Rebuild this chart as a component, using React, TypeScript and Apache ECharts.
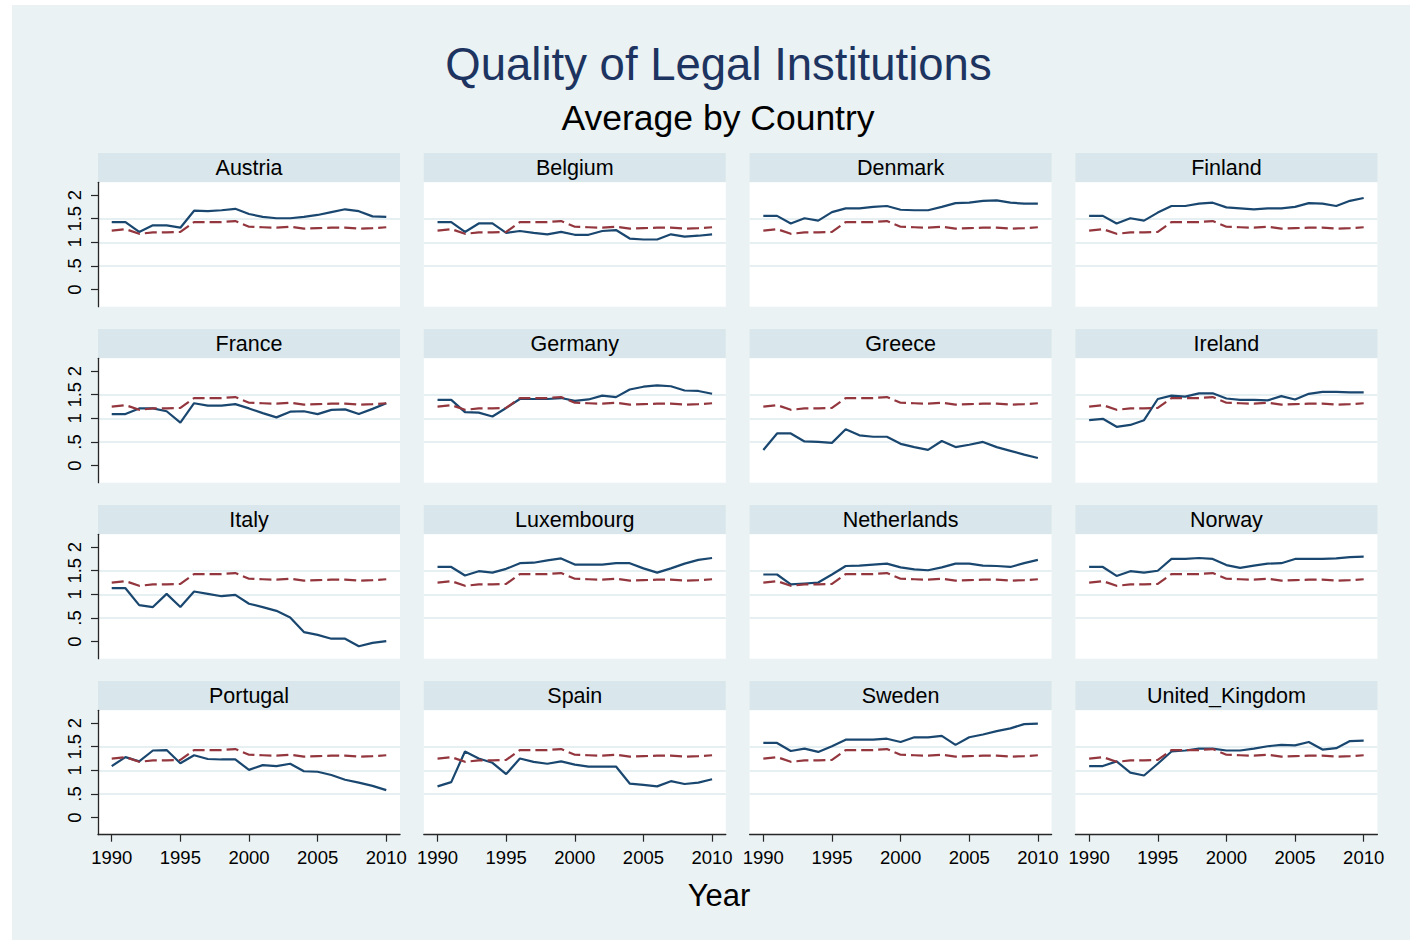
import React, { useEffect, useRef } from "react";
import * as echarts from "echarts";

// ---------- data ----------
const years = [1990, 1991, 1992, 1993, 1994, 1995, 1996, 1997, 1998, 1999, 2000,
  2001, 2002, 2003, 2004, 2005, 2006, 2007, 2008, 2009, 2010];

const austria = [1.43, 1.43, 1.22, 1.36, 1.36, 1.31, 1.67, 1.66, 1.68, 1.71, 1.60, 1.54, 1.51, 1.51, 1.54, 1.58, 1.64, 1.70, 1.66, 1.55, 1.54];
const belgium = [1.43, 1.43, 1.22, 1.40, 1.40, 1.20, 1.24, 1.20, 1.17, 1.22, 1.16, 1.16, 1.24, 1.26, 1.08, 1.06, 1.06, 1.17, 1.12, 1.14, 1.17];
const denmark = [1.56, 1.56, 1.40, 1.51, 1.46, 1.64, 1.72, 1.72, 1.75, 1.77, 1.69, 1.68, 1.68, 1.75, 1.83, 1.84, 1.88, 1.89, 1.84, 1.82, 1.82];
const finland = [1.56, 1.56, 1.40, 1.51, 1.46, 1.63, 1.77, 1.77, 1.82, 1.84, 1.74, 1.72, 1.70, 1.72, 1.72, 1.75, 1.83, 1.82, 1.77, 1.88, 1.94];
const france = [1.09, 1.09, 1.21, 1.21, 1.15, 0.91, 1.32, 1.27, 1.27, 1.30, 1.21, 1.11, 1.02, 1.14, 1.15, 1.09, 1.18, 1.19, 1.09, 1.20, 1.32];
const germany = [1.39, 1.39, 1.13, 1.12, 1.04, 1.22, 1.41, 1.41, 1.41, 1.43, 1.37, 1.40, 1.48, 1.45, 1.61, 1.67, 1.70, 1.68, 1.59, 1.58, 1.52];
const greece = [0.33, 0.68, 0.68, 0.51, 0.50, 0.48, 0.77, 0.64, 0.61, 0.61, 0.46, 0.39, 0.33, 0.52, 0.39, 0.44, 0.50, 0.39, 0.31, 0.23, 0.16];
const ireland = [0.96, 0.99, 0.82, 0.86, 0.96, 1.41, 1.48, 1.46, 1.53, 1.53, 1.42, 1.39, 1.39, 1.38, 1.47, 1.40, 1.52, 1.56, 1.56, 1.55, 1.55];
const italy = [1.13, 1.13, 0.77, 0.73, 1.01, 0.73, 1.06, 1.01, 0.96, 0.99, 0.80, 0.73, 0.65, 0.51, 0.20, 0.14, 0.06, 0.06, -0.10, -0.03, 0.01];
const luxembourg = [1.58, 1.58, 1.40, 1.49, 1.46, 1.54, 1.66, 1.67, 1.72, 1.76, 1.63, 1.63, 1.63, 1.66, 1.66, 1.55, 1.46, 1.55, 1.65, 1.73, 1.77];
const netherlands = [1.42, 1.42, 1.21, 1.23, 1.25, 1.42, 1.60, 1.61, 1.63, 1.65, 1.57, 1.53, 1.51, 1.57, 1.65, 1.65, 1.61, 1.60, 1.58, 1.66, 1.73];
const norway = [1.58, 1.58, 1.39, 1.49, 1.46, 1.50, 1.75, 1.75, 1.77, 1.75, 1.62, 1.56, 1.61, 1.65, 1.66, 1.75, 1.75, 1.75, 1.76, 1.79, 1.80];
const portugal = [1.09, 1.28, 1.19, 1.42, 1.43, 1.15, 1.32, 1.24, 1.23, 1.23, 1.01, 1.11, 1.09, 1.14, 0.98, 0.97, 0.90, 0.80, 0.74, 0.67, 0.58];
const spain = [0.66, 0.75, 1.40, 1.25, 1.16, 0.92, 1.25, 1.18, 1.14, 1.19, 1.12, 1.08, 1.08, 1.08, 0.72, 0.69, 0.66, 0.77, 0.71, 0.74, 0.81];
const sweden = [1.58, 1.58, 1.41, 1.46, 1.39, 1.51, 1.65, 1.65, 1.65, 1.67, 1.60, 1.70, 1.70, 1.73, 1.54, 1.70, 1.76, 1.83, 1.89, 1.98, 1.99];
const unitedKingdom = [1.09, 1.09, 1.19, 0.95, 0.89, 1.14, 1.40, 1.42, 1.46, 1.46, 1.42, 1.42, 1.46, 1.51, 1.54, 1.53, 1.60, 1.44, 1.47, 1.62, 1.63];

// overall average (red dashed line, identical in every panel)
const average = [1.25, 1.28, 1.18, 1.21, 1.21, 1.22, 1.43, 1.43, 1.43, 1.45, 1.33, 1.32, 1.31, 1.33, 1.29, 1.30, 1.31, 1.31, 1.29, 1.30, 1.32];

const countries = ["Austria", "Belgium", "Denmark", "Finland", "France", "Germany", "Greece", "Ireland",
  "Italy", "Luxembourg", "Netherlands", "Norway", "Portugal", "Spain", "Sweden", "United_Kingdom"];
const countryValues = [austria, belgium, denmark, finland, france, germany, greece, ireland,
  italy, luxembourg, netherlands, norway, portugal, spain, sweden, unitedKingdom];

const xTickValues = [1990, 1995, 2000, 2005, 2010];
const yTickValues = [0, 0.5, 1, 1.5, 2];
const yTickLabels = ["0", ".5", "1", "1.5", "2"];

const mainTitle = "Quality of Legal Institutions";
const subTitle = "Average by Country";
const xTitle = "Year";

// ---------- style ----------
const FONT = '"Liberation Sans", Arial, Helvetica, sans-serif';
const BG = "#EAF2F3";
const STRIP = "#D9E6EB";
const TITLE = "#1D3461";
const NAVY = "#1A476F";
const MAROON = "#93363D";
const AXIS = "#262626";

export default function App() {
  const ref = useRef<HTMLDivElement>(null);

  useEffect(() => {
    if (!ref.current) return;
    const chart = echarts.init(ref.current, null, { renderer: "svg", width: 1412, height: 942 });

    const grids: any[] = [];
    const xAxes: any[] = [];
    const yAxes: any[] = [];
    const series: any[] = [];
    const graphics: any[] = [
      { type: "rect", shape: { x: 0, y: 0, width: 12, height: 942 }, style: { fill: "#fff" }, silent: true },
      { type: "rect", shape: { x: 0, y: 0, width: 1412, height: 5 }, style: { fill: "#fff" }, silent: true },
      { type: "rect", shape: { x: 1410, y: 0, width: 2, height: 942 }, style: { fill: "#fff" }, silent: true },
      { type: "rect", shape: { x: 0, y: 940, width: 1412, height: 2 }, style: { fill: "#fff" }, silent: true },
    ];

    const plotW = 302;
    const plotH = 124.4;
    const stripH = 29;

    countries.forEach((name, i) => {
      const r = Math.floor(i / 4);
      const c = i % 4;
      const left = 98 + c * 325.8;
      const stripTop = 153 + r * 176;
      const top = stripTop + 29.3;
      const isBottom = r === 3;
      const isLeft = c === 0;

      grids.push({
        left, top, width: plotW, height: plotH,
        show: true, backgroundColor: "#ffffff", borderWidth: 0,
        containLabel: false, outerBoundsMode: "none",
      });

      xAxes.push({
        type: "value", gridIndex: i, min: 1989, max: 2011,
        axisLine: { show: isBottom, onZero: false, lineStyle: { color: AXIS, width: 1.3 } },
        axisTick: { show: isBottom, customValues: xTickValues, length: 7, lineStyle: { color: AXIS, width: 1.2 } },
        axisLabel: {
          show: isBottom, customValues: xTickValues, margin: 13,
          fontSize: 18.5, fontFamily: FONT, color: "#000",
          formatter: (v: number) => String(v),
        },
        splitLine: { show: false },
      });

      yAxes.push({
        type: "value", gridIndex: i, min: -0.364, max: 2.272,
        axisLine: { show: isLeft, onZero: false, lineStyle: { color: AXIS, width: 1.3 } },
        axisTick: { show: isLeft, customValues: yTickValues, length: 7, lineStyle: { color: AXIS, width: 1.2 } },
        axisLabel: {
          show: isLeft, customValues: yTickValues, rotate: 90, margin: 14,
          fontSize: 18.5, fontFamily: FONT, color: "#000",
          formatter: (v: number) => {
            let best = 0;
            yTickValues.forEach((t, k) => { if (Math.abs(t - v) < Math.abs(yTickValues[best] - v)) best = k; });
            return yTickLabels[best];
          },
        },
        splitLine: { show: true, showMinLine: false, showMaxLine: false, lineStyle: { color: "#E6EFF1", width: 2 } },
      });

      const vals = countryValues[i];
      series.push({
        name, type: "line", xAxisIndex: i, yAxisIndex: i,
        data: years.map((y, k) => [y, vals[k]]),
        symbol: "none", silent: true, z: 3,
        lineStyle: { color: NAVY, width: 2.2 },
      });
      series.push({
        name: "Average", type: "line", xAxisIndex: i, yAxisIndex: i,
        data: years.map((y, k) => [y, average[k]]),
        symbol: "none", silent: true, z: 4,
        lineStyle: { color: MAROON, width: 2.2, type: [12, 5] },
      });

      graphics.push({
        type: "rect", silent: true,
        shape: { x: left, y: stripTop, width: plotW, height: stripH },
        style: { fill: STRIP },
      });
      graphics.push({
        type: "text", silent: true,
        x: left + plotW / 2, y: stripTop + stripH / 2 + 0.5,
        style: {
          text: name, fontSize: 21.5, fontFamily: FONT, fill: "#000",
          align: "center", verticalAlign: "middle", textAlign: "center", textVerticalAlign: "middle",
        },
      });
    });

    graphics.push({
      type: "text", silent: true, x: 718.5, y: 64,
      style: {
        text: mainTitle, fontSize: 45.5, fontFamily: FONT, fill: TITLE,
        align: "center", verticalAlign: "middle", textAlign: "center", textVerticalAlign: "middle",
      },
    });
    graphics.push({
      type: "text", silent: true, x: 718, y: 117.5,
      style: {
        text: subTitle, fontSize: 35.5, fontFamily: FONT, fill: "#000",
        align: "center", verticalAlign: "middle", textAlign: "center", textVerticalAlign: "middle",
      },
    });
    graphics.push({
      type: "text", silent: true, x: 719, y: 895,
      style: {
        text: xTitle, fontSize: 31, fontFamily: FONT, fill: "#000",
        align: "center", verticalAlign: "middle", textAlign: "center", textVerticalAlign: "middle",
      },
    });

    chart.setOption({
      animation: false,
      backgroundColor: BG,
      textStyle: { fontFamily: FONT },
      grid: grids,
      xAxis: xAxes,
      yAxis: yAxes,
      series,
      graphic: { elements: graphics },
    });

    return () => chart.dispose();
  }, []);

  return (
    <div
      ref={ref}
      style={{ position: "absolute", left: 0, top: 0, width: 1412, height: 942 }}
    />
  );
}
